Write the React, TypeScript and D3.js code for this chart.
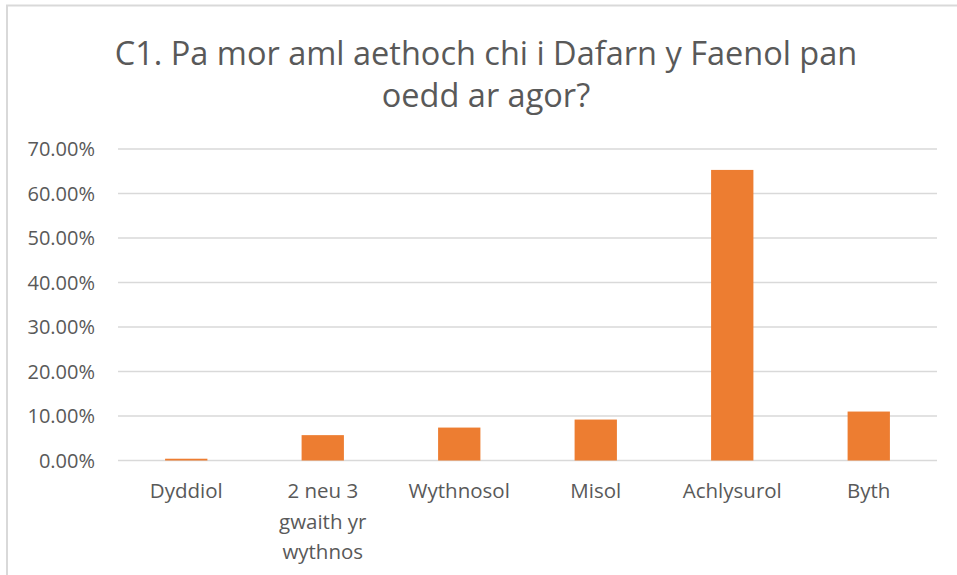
import React, { useEffect, useRef } from 'react';
import * as d3 from 'd3';

const categories = [['Dyddiol'], ['2 neu 3', 'gwaith yr', 'wythnos'], ['Wythnosol'], ['Misol'], ['Achlysurol'], ['Byth']];
const values = [0.004, 0.057, 0.074, 0.092, 0.653, 0.11];
const yTicks = [0, 0.1, 0.2, 0.3, 0.4, 0.5, 0.6, 0.7];
const titleLines = ['C1. Pa mor aml aethoch chi i Dafarn y Faenol pan', 'oedd ar agor?'];

const App = () => {
  const svgRef = useRef<SVGSVGElement>(null);

  useEffect(() => {
    const w = 957;
    const h = 575;
    const svg = d3.select(svgRef.current).attr('width', w).attr('height', h);
    svg.selectAll('*').remove();
    const font = '"Open Sans", Lato, sans-serif';
    const grey = '#595959';

    svg.append('rect')
      .attr('x', 7).attr('y', 5.5).attr('width', 960).attr('height', 600)
      .attr('fill', '#fff').attr('stroke', '#d9d9d9').attr('stroke-width', 2);

    const left = 118, right = 937, top = 149, bottom = 460.5;
    const x = d3.scaleBand().domain(categories.map((d, i) => String(i))).range([left, right]).paddingInner(0.69).paddingOuter(0.345);
    const y = d3.scaleLinear().domain([0, 0.7]).range([bottom, top]);

    // grid
    svg.append('g').selectAll('line').data(yTicks).join('line')
      .attr('x1', left).attr('x2', right)
      .attr('y1', d => y(d)).attr('y2', d => y(d))
      .attr('stroke', '#d9d9d9').attr('stroke-width', 1.3);

    svg.append('g').selectAll('text').data(yTicks).join('text')
      .attr('x', 95).attr('y', d => y(d)).attr('dy', '0.35em')
      .attr('text-anchor', 'end').attr('font-family', font).attr('font-size', 20).attr('fill', grey)
      .text(d => d3.format('.2%')(d));

    svg.append('g').selectAll('rect').data(values).join('rect')
      .attr('x', (d, i) => x(String(i))!)
      .attr('width', x.bandwidth())
      .attr('y', d => y(d))
      .attr('height', d => bottom - y(d))
      .attr('fill', '#ed7d31');

    const cat = svg.append('g').selectAll('text').data(categories).join('text')
      .attr('x', (d, i) => x(String(i))! + x.bandwidth() / 2)
      .attr('y', 498)
      .attr('text-anchor', 'middle').attr('font-family', font).attr('font-size', 20.5).attr('fill', grey);
    cat.selectAll('tspan').data(d => d).join('tspan')
      .attr('x', function () { return (this.parentNode as SVGTextElement).getAttribute('x'); })
      .attr('dy', (d, i) => (i === 0 ? 0 : 30.5))
      .text(d => d);

    svg.append('g').selectAll('text').data(titleLines).join('text')
      .attr('x', 486).attr('y', (d, i) => 65 + i * 42)
      .attr('text-anchor', 'middle').attr('font-family', font).attr('font-size', 32.5).attr('fill', grey)
      .text(d => d);
  }, []);

  return <svg ref={svgRef} style={{ position: 'absolute', left: 0, top: 0, display: 'block' }}></svg>;
};

export default App;
